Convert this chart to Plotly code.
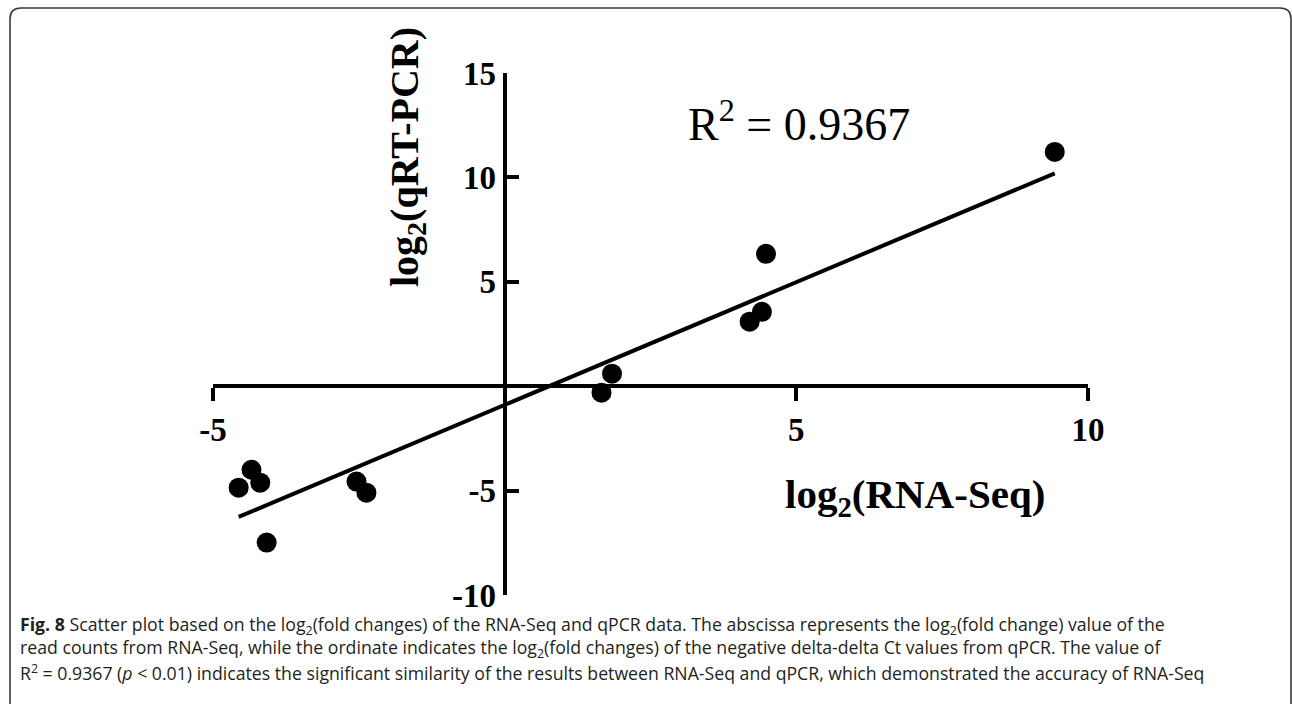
import numpy as np
import plotly.graph_objects as go

# ---- data ----
rna_seq = [-4.56, -4.34, -4.19, -4.08, -2.54, -2.37, 1.66, 1.84, 4.20, 4.41, 4.48, 9.43]
qpcr = [-4.86, -4.00, -4.62, -7.49, -4.57, -5.10, -0.31, 0.60, 3.09, 3.56, 6.34, 11.22]
x_tickvals = [-5, 5, 10]
x_ticktext = ["-5", "5", "10"]
y_tickvals = [-10, -5, 5, 10, 15]
y_ticktext = ["-10", "-5", "5", "10", "15"]
r2_text = "R<sup>2</sup> = 0.9367"
caption_lines = [
    "<b>Fig. 8</b> Scatter plot based on the log<sub>2</sub>(fold changes) of the RNA-Seq and qPCR data. The abscissa represents the log<sub>2</sub>(fold change) value of the",
    "read counts from RNA-Seq, while the ordinate indicates the log<sub>2</sub>(fold changes) of the negative delta-delta Ct values from qPCR. The value of",
    "R<sup>2</sup> = 0.9367 (<i>p</i> &lt; 0.01) indicates the significant similarity of the results between RNA-Seq and qPCR, which demonstrated the accuracy of RNA-Seq",
]

# linear fit
slope, intercept = np.polyfit(rna_seq, qpcr, 1)
fit_x = [min(rna_seq), max(rna_seq)]
fit_y = [slope * v + intercept for v in fit_x]

W, H = 1292, 704
xr = [-5, 10]
yr = [-10, 15]
xdom = [213 / W, 1088 / W]
ydom = [(H - 595) / H, (H - 73) / H]
x_axis_pos = ydom[0] + (0 - yr[0]) / (yr[1] - yr[0]) * (ydom[1] - ydom[0])
y_axis_pos = xdom[0] + (0 - xr[0]) / (xr[1] - xr[0]) * (xdom[1] - xdom[0])

serif = "Liberation Serif"
fig = go.Figure()
fig.add_trace(go.Scatter(x=fit_x, y=fit_y, mode="lines",
                         line=dict(color="black", width=4), hoverinfo="skip"))
fig.add_trace(go.Scatter(x=rna_seq, y=qpcr, mode="markers",
                         marker=dict(size=20, color="black")))

fig.update_layout(
    width=W, height=H, margin=dict(l=0, r=0, t=0, b=0, autoexpand=False),
    paper_bgcolor="white", plot_bgcolor="rgba(0,0,0,0)", showlegend=False,
    xaxis=dict(domain=xdom, range=xr, anchor="free", position=x_axis_pos,
               tickvals=x_tickvals, ticktext=x_ticktext, ticks="outside",
               ticklen=13, tickwidth=4, tickcolor="black", showline=True,
               linewidth=4, linecolor="black", showgrid=False, zeroline=False,
               tickfont=dict(family=serif, size=33, color="black", weight="bold")),
    yaxis=dict(domain=ydom, range=yr, anchor="free", position=y_axis_pos,
               tickvals=y_tickvals, ticktext=y_ticktext, ticks="inside",
               ticklen=12, tickwidth=4, tickcolor="black", showline=True,
               linewidth=4, linecolor="black", showgrid=False, zeroline=False,
               tickfont=dict(family=serif, size=33, color="black", weight="bold")),
)

annotations = [
    dict(text="log<sub>2</sub>(RNA-Seq)", x=915 / W, y=1 - 497 / H, xref="paper", yref="paper",
         showarrow=False, xanchor="center", yanchor="middle",
         font=dict(family=serif, size=41, color="black", weight="bold")),
    dict(text="log<sub>2</sub>(qRT-PCR)", x=407 / W, y=1 - 157 / H, xref="paper", yref="paper",
         showarrow=False, xanchor="center", yanchor="middle", textangle=-90,
         font=dict(family=serif, size=40, color="black", weight="bold")),
    dict(text=r2_text, x=799 / W, y=1 - 121 / H, xref="paper", yref="paper",
         showarrow=False, xanchor="center", yanchor="middle",
         font=dict(family=serif, size=46, color="black")),
]
for i, (line, ypx) in enumerate(zip(caption_lines, [625, 648.5, 672])):
    annotations.append(dict(text=line, x=18 / W, y=1 - ypx / H, xref="paper", yref="paper",
                            showarrow=False, xanchor="left", yanchor="middle",
                            font=dict(family="Open Sans", size=17.7, color="#231f20")))
fig.update_layout(annotations=annotations)

# rounded frame
r = 11
x0, y0, x1, y1 = 10, 8, 1291, 720
path = (f"M {x0/W},{1-(y1)/H} L {x0/W},{1-(y0+r)/H} "
        f"Q {x0/W},{1-y0/H} {(x0+r)/W},{1-y0/H} "
        f"L {(x1-r)/W},{1-y0/H} Q {x1/W},{1-y0/H} {x1/W},{1-(y0+r)/H} "
        f"L {x1/W},{1-y1/H}")
fig.add_shape(type="path", path=path, xref="paper", yref="paper",
              line=dict(color="#3a3a3a", width=1.6))

fig.write_html("out.html")
